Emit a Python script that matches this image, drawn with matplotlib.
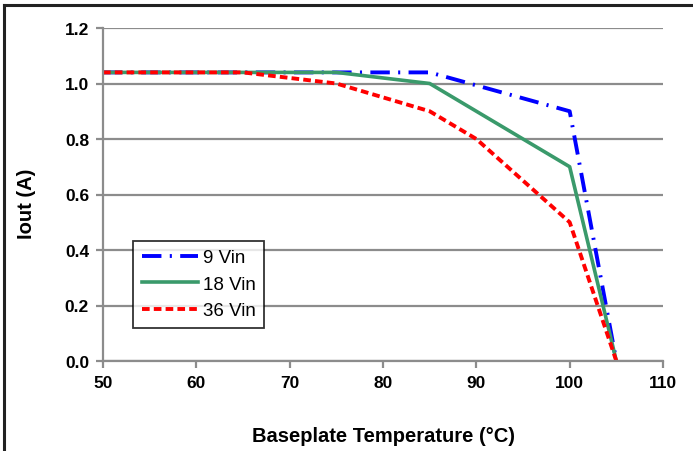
import matplotlib
matplotlib.use("Agg")
import matplotlib.pyplot as plt
from matplotlib.lines import Line2D

plt.rcParams['font.family'] = ['Liberation Sans', 'DejaVu Sans']
plt.rcParams['lines.scale_dashes'] = False

x_9 = [50, 85, 100, 105]
y_9 = [1.04, 1.04, 0.90, 0.0]
x_18 = [50, 75, 85, 100, 105]
y_18 = [1.04, 1.04, 1.00, 0.70, 0.0]
x_36 = [50, 65, 75, 85, 90, 100, 105]
y_36 = [1.04, 1.04, 1.00, 0.90, 0.80, 0.50, 0.0]
labels = ["9 Vin", "18 Vin", "36 Vin"]
x_ticks = [50, 60, 70, 80, 90, 100, 110]
y_ticks = [0.0, 0.2, 0.4, 0.6, 0.8, 1.0, 1.2]

fig = plt.figure(figsize=(6.93, 4.52), dpi=100)
ax = fig.add_axes([103/693, 1-362/452, 560/693, 333/452])

ax.plot(x_9, y_9, color='#0000FF', lw=2.8, dashes=(14, 6, 1.5, 6), label=labels[0])
ax.plot(x_18, y_18, color='#3A9A6B', lw=2.6, label=labels[1])
ax.plot(x_36, y_36, color='#FF0000', lw=2.8, dashes=(5.5, 3), label=labels[2])

ax.set_xlim(50, 110)
ax.set_ylim(0, 1.2)
ax.set_xticks(x_ticks)
ax.set_yticks(y_ticks)
ax.set_xticklabels([str(v) for v in x_ticks], fontsize=12.5, fontweight='bold')
ax.set_yticklabels([f"{v:.1f}" for v in y_ticks], fontsize=12.5, fontweight='bold')
ax.grid(axis='y', color='#8C8C8C', lw=1.6)
ax.set_axisbelow(True)
for s in ['top', 'right']:
    ax.spines[s].set_visible(False)
for s in ['left', 'bottom']:
    ax.spines[s].set_color('#8C8C8C')
    ax.spines[s].set_linewidth(1.6)
ax.tick_params(axis='both', direction='out', length=5, width=1.6, color='#8C8C8C', pad=5)

ax.set_xlabel('Baseplate Temperature (°C)', fontsize=14.5, fontweight='bold')
ax.set_ylabel('Iout (A)', fontsize=14.5, fontweight='bold')
ax.xaxis.set_label_coords(0.5, (362-436)/333)
ax.xaxis.label.set_va('center')
ax.yaxis.set_label_coords((26-103)/560, (362-204)/333)
ax.yaxis.label.set_va('center')

leg = ax.legend(loc='lower left', bbox_to_anchor=(0.054, 0.10), fontsize=13.5,
                frameon=True, fancybox=False, edgecolor='black', handlelength=3.0,
                borderaxespad=0, handletextpad=0.25, labelspacing=0.5, borderpad=0.45)
leg.get_frame().set_linewidth(1.3)

fig.add_artist(Line2D([4/693, 1], [1-6/452, 1-6/452], color='#222222', lw=2.2, transform=fig.transFigure))
fig.add_artist(Line2D([4/693, 4/693], [0, 1-6/452], color='#222222', lw=2.2, transform=fig.transFigure))

fig.savefig('out.png', dpi=100)
